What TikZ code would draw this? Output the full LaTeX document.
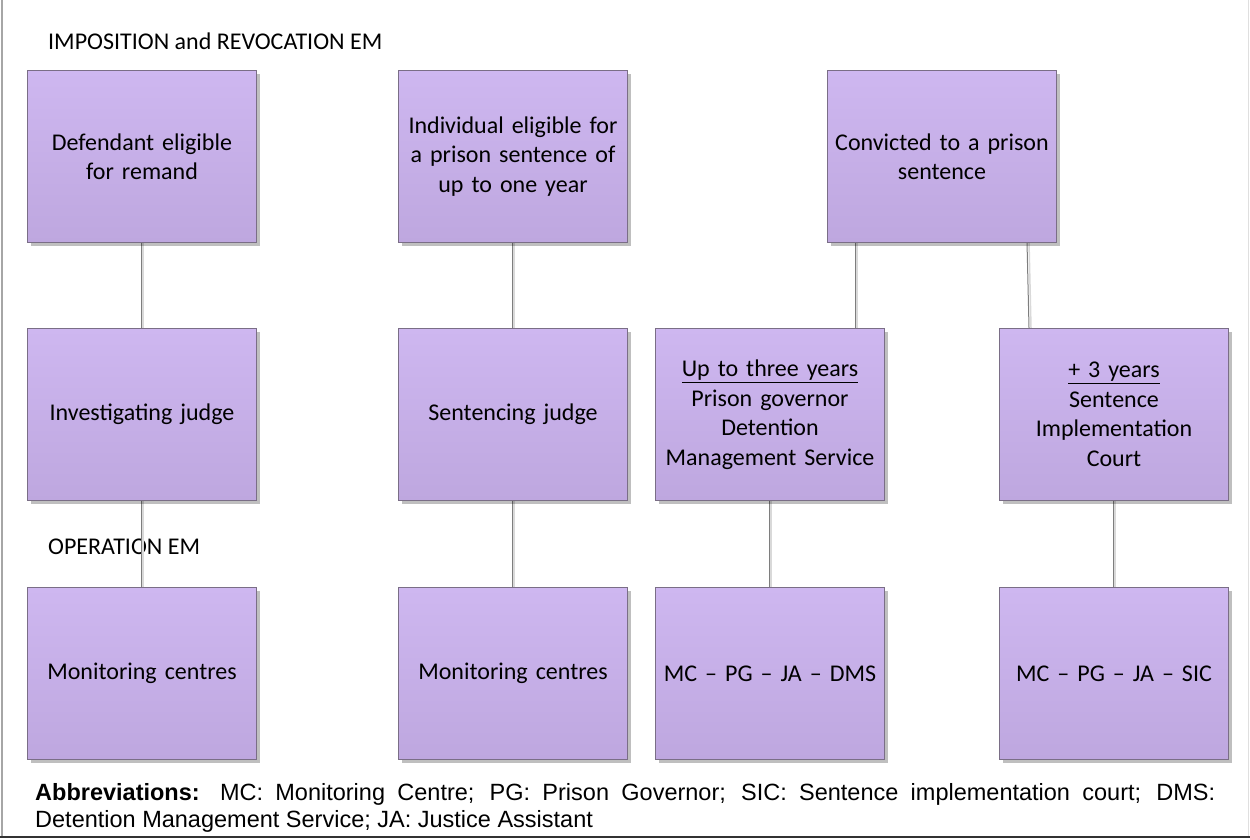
\documentclass[tikz,border=0pt]{standalone}
\usepackage{fontspec}
\setmainfont{Carlito}
\newfontfamily\abbrfont{Liberation Sans}
\usetikzlibrary{shadows}
\definecolor{boxtop}{HTML}{CEB7F0}
\definecolor{boxbot}{HTML}{BEA7DF}
\definecolor{boxline}{HTML}{7A6E86}
\definecolor{linkgray}{HTML}{7E7E7E}
\tikzset{
  stagebox/.style={draw=boxline, line width=1pt, top color=boxtop, bottom color=boxbot,
    minimum width=229pt, minimum height=172pt, anchor=north west, inner sep=3pt,
    align=center, font=\fontsize{24}{29.5}\selectfont, text width=223pt,
    drop shadow={shadow xshift=3pt, shadow yshift=-3pt, fill=black, opacity=0.25}},
  link/.style={draw=linkgray, line width=1pt},
  linkshade/.style={draw=gray!30, line width=1.5pt},
  heading/.style={anchor=west, inner sep=0pt, font=\fontsize{24}{28}\selectfont},
}
\begin{document}
\begin{tikzpicture}[x=1pt, y=-1pt]
  \useasboundingbox (0,0) rectangle (1250,839);
  % outer frame: left, right and bottom edges only
  \draw[gray!70, line width=1.5pt] (2,0) -- (2,836);
  \draw[gray!25, line width=1pt] (1248.5,0) -- (1248.5,836);
  \draw[black!80, line width=2pt] (0,837) -- (1250,837);

  % headings
  \node[heading] (hImp) at (48,41) {IMPOSITION and REVOCATION EM};
  \node[heading] (hOp) at (48,547) {OPERATION EM};

  % connector endpoints on box edges
  \coordinate (cA) at (141,242);  \coordinate (cD1) at (141,328);
  \coordinate (cD2) at (141,500); \coordinate (cH) at (141,587);
  \coordinate (cB) at (512,242);  \coordinate (cE1) at (512,328);
  \coordinate (cE2) at (512,500); \coordinate (cI) at (512,587);
  \coordinate (cC1) at (855,242); \coordinate (cF1) at (855,328);
  \coordinate (cC2) at (1027,242); \coordinate (cG1) at (1029,328);
  \coordinate (cF2) at (769,500); \coordinate (cJ) at (769,587);
  \coordinate (cG2) at (1113,500); \coordinate (cK) at (1113,587);

  % connectors (with a faint shade beside each)
  \foreach \p/\q in {cA/cD1, cD2/cH, cB/cE1, cE2/cI, cC1/cF1, cC2/cG1, cF2/cJ, cG2/cK}{
    \draw[linkshade] ([xshift=2pt]\p) -- ([xshift=2pt]\q);
    \draw[link] (\p) -- (\q);
  }

  % first row
  \node[stagebox] (A) at (27,70) {Defendant eligible\\for remand};
  \node[stagebox] (B) at (398,70) {Individual eligible for\\a prison sentence of\\up to one year};
  \node[stagebox] (C) at (827,70) {Convicted to a prison\\sentence};

  % second row
  \node[stagebox] (D) at (27,328) {Investigating judge};
  \node[stagebox] (E) at (398,328) {Sentencing judge};
  \node[stagebox] (F) at (655,328) {\underline{Up to three years}\\Prison governor\\Detention\\Management Service};
  \node[stagebox] (G) at (999,328) {\underline{+ 3 years}\\Sentence\\Implementation\\Court};

  % third row
  \node[stagebox] (H) at (27,587) {Monitoring centres};
  \node[stagebox] (I) at (398,587) {Monitoring centres};
  \node[stagebox] (J) at (655,587) {MC – PG – JA – DMS};
  \node[stagebox] (K) at (999,587) {MC – PG – JA – SIC};

  % abbreviations (first line justified, ends after "DMS:")
  \node[anchor=base west, inner sep=0pt, text width=1180pt, align=justify,
        font=\abbrfont\fontsize{23.5}{27}\selectfont] (abbr) at (35,800)
    {\hyphenpenalty=10000 \textbf{Abbreviations:} MC: Monitoring Centre; PG: Prison Governor; SIC: Sentence implementation court; DMS:\linebreak Detention Management Service; JA: Justice Assistant};
\end{tikzpicture}
\end{document}
